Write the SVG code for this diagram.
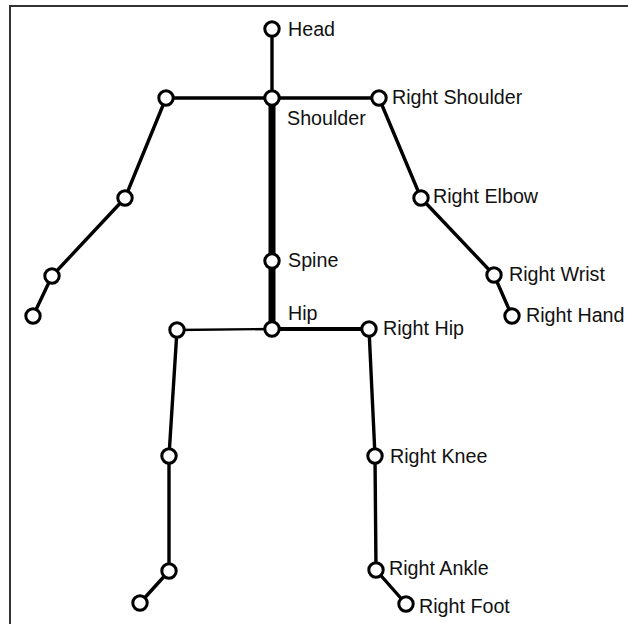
<svg xmlns="http://www.w3.org/2000/svg" width="628" height="624" viewBox="0 0 628 624">
  <style>
    .bone { stroke: #000; stroke-width: 3.4; fill: none; stroke-linecap: round; }
    .bone.thick { stroke-width: 7; stroke-linecap: butt; }
    .bone.thin { stroke-width: 2.4; }
    .bone.mid { stroke-width: 3.8; }
    .joint { fill: #fff; stroke: #000; stroke-width: 3; }
    .label { font-family: "Liberation Sans", Arial, sans-serif; font-size: 19.7px; fill: #111; }
  </style>
  <rect width="628" height="624" fill="#fff"/>
  <!-- frame: top and left edges -->
  <path d="M10 624 V6 H628" fill="none" stroke="#333" stroke-width="2"/>

  <g id="connectors">
    <line class="bone" x1="272" y1="29" x2="272" y2="98"/>
    <line class="bone" x1="166" y1="98" x2="379" y2="98"/>
    <line class="bone thick" x1="272" y1="98" x2="272" y2="329"/>
    <line class="bone" x1="166" y1="98" x2="125" y2="198"/>
    <line class="bone" x1="125" y1="198" x2="52" y2="276"/>
    <line class="bone" x1="52" y1="276" x2="33" y2="316"/>
    <line class="bone" x1="379" y1="98" x2="421" y2="198"/>
    <line class="bone" x1="421" y1="198" x2="494" y2="275"/>
    <line class="bone" x1="494" y1="275" x2="512" y2="316"/>
    <line class="bone thin" x1="177" y1="330" x2="272" y2="329"/>
    <line class="bone mid" x1="272" y1="329" x2="369" y2="329"/>
    <line class="bone" x1="177" y1="330" x2="169" y2="456"/>
    <line class="bone" x1="169" y1="456" x2="169" y2="571"/>
    <line class="bone" x1="169" y1="571" x2="140" y2="603"/>
    <line class="bone" x1="369" y1="329" x2="375" y2="456"/>
    <line class="bone" x1="375" y1="456" x2="376" y2="570"/>
    <line class="bone" x1="376" y1="570" x2="406" y2="604"/>
  </g>

  <g id="head"><circle class="joint" cx="272" cy="29" r="7.2"/><text class="label" x="288" y="36">Head</text></g>
  <g id="shoulder"><circle class="joint" cx="272" cy="98" r="7.2"/><text class="label" x="287" y="125">Shoulder</text></g>
  <g id="left-shoulder"><circle class="joint" cx="166" cy="98" r="7.2"/></g>
  <g id="right-shoulder"><circle class="joint" cx="379" cy="98" r="7.2"/><text class="label" x="392" y="104">Right Shoulder</text></g>
  <g id="left-elbow"><circle class="joint" cx="125" cy="198" r="7.2"/></g>
  <g id="left-wrist"><circle class="joint" cx="52" cy="276" r="7.2"/></g>
  <g id="left-hand"><circle class="joint" cx="33" cy="316" r="7.2"/></g>
  <g id="right-elbow"><circle class="joint" cx="421" cy="198" r="7.2"/><text class="label" x="433" y="203">Right Elbow</text></g>
  <g id="right-wrist"><circle class="joint" cx="494" cy="275" r="7.2"/><text class="label" x="509" y="281">Right Wrist</text></g>
  <g id="right-hand"><circle class="joint" cx="512" cy="316" r="7.2"/><text class="label" x="526" y="322">Right Hand</text></g>
  <g id="spine"><circle class="joint" cx="272" cy="261" r="7.2"/><text class="label" x="288" y="267">Spine</text></g>
  <g id="hip"><circle class="joint" cx="272" cy="329" r="7.2"/><text class="label" x="288" y="320">Hip</text></g>
  <g id="left-hip"><circle class="joint" cx="177" cy="330" r="7.2"/></g>
  <g id="right-hip"><circle class="joint" cx="369" cy="329" r="7.2"/><text class="label" x="383" y="335">Right Hip</text></g>
  <g id="left-knee"><circle class="joint" cx="169" cy="456" r="7.2"/></g>
  <g id="left-ankle"><circle class="joint" cx="169" cy="571" r="7.2"/></g>
  <g id="left-foot"><circle class="joint" cx="140" cy="603" r="7.2"/></g>
  <g id="right-knee"><circle class="joint" cx="375" cy="456" r="7.2"/><text class="label" x="390" y="463">Right Knee</text></g>
  <g id="right-ankle"><circle class="joint" cx="376" cy="570" r="7.2"/><text class="label" x="389" y="575">Right Ankle</text></g>
  <g id="right-foot"><circle class="joint" cx="406" cy="604" r="7.2"/><text class="label" x="419" y="613">Right Foot</text></g>
</svg>
